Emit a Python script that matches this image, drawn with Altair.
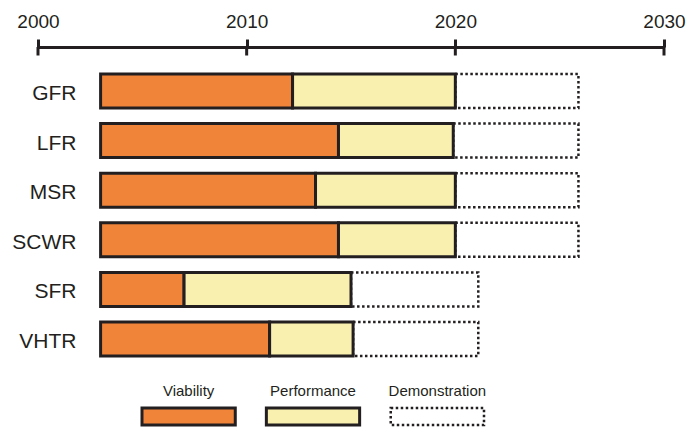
import altair as alt
import pandas as pd

# ---- data ----
systems = ["GFR", "LFR", "MSR", "SCWR", "SFR", "VHTR"]
viability_start = [2003, 2003, 2003, 2003, 2003, 2003]
viability_end = [2012.2, 2014.4, 2013.3, 2014.4, 2007.0, 2011.1]
performance_end = [2020.0, 2019.9, 2020.0, 2020.0, 2015.0, 2015.1]
demonstration_end = [2025.9, 2025.9, 2025.9, 2025.9, 2021.1, 2021.1]
phases = ["Viability", "Performance", "Demonstration"]
phase_colors = ["#F0853A", "#F9F0B0", "#FFFFFF"]
year_ticks = [2000, 2010, 2020, 2030]

DARK = "#231F20"
FONT = "Liberation Sans"

rows = []
for i, s in enumerate(systems):
    rows.append(dict(system=s, phase=phases[0], start=viability_start[i], end=viability_end[i], color=phase_colors[0]))
    rows.append(dict(system=s, phase=phases[1], start=viability_end[i], end=performance_end[i], color=phase_colors[1]))
    rows.append(dict(system=s, phase=phases[2], start=performance_end[i], end=demonstration_end[i], color=phase_colors[2]))
df = pd.DataFrame(rows)
ticks_df = pd.DataFrame({"year": year_ticks})
legend_df = pd.DataFrame({"phase": phases, "color": phase_colors})

# ---- scales / axes ----
x_scale = alt.Scale(domain=[2000, 2030], nice=False, zero=False)
x_axis = alt.Axis(
    orient="top", values=year_ticks, format="d", grid=False, title=None,
    domainWidth=3, domainColor=DARK, tickWidth=3, tickColor=DARK, tickSize=8,
    labelFontSize=19, labelFont=FONT, labelColor=DARK, labelPadding=12,
    labelBaseline="alphabetic", labelFlush=False,
)
y_scale = alt.Scale(domain=systems, range=[27, 309], paddingInner=0.315, paddingOuter=0)
y_axis = alt.Axis(
    orient="left", domain=False, ticks=False, title=None, offset=-41,
    labelPadding=3, labelFontSize=21, labelFont=FONT, labelColor=DARK, labelOffset=3,
)

base = alt.Chart(df).encode(
    x=alt.X("start:Q", scale=x_scale, axis=x_axis),
    x2="end:Q",
    y=alt.Y("system:N", sort=systems, scale=y_scale, axis=y_axis),
)

demo = base.transform_filter(alt.datum.phase == "Demonstration").mark_bar(
    fill="white", stroke=DARK, strokeWidth=2.5, strokeDash=[2.5, 2.5]
)
bars = base.transform_filter(alt.datum.phase != "Demonstration").mark_bar(
    stroke=DARK, strokeWidth=3
).encode(fill=alt.Fill("color:N", scale=None))

tick_down = alt.Chart(ticks_df).mark_rule(color=DARK, strokeWidth=3).encode(
    x=alt.X("year:Q", scale=x_scale, axis=x_axis),
    y=alt.value(0),
    y2=alt.value(8.5),
)

main = alt.layer(demo, bars, tick_down)

# ---- legend ----
lx = alt.X("phase:N", sort=phases,
           scale=alt.Scale(domain=phases, range=[104, 446], paddingInner=0.25, paddingOuter=0),
           axis=None)
lbase = alt.Chart(legend_df).encode(x=lx)
leg_solid = lbase.transform_filter(alt.datum.phase != "Demonstration").mark_rect(
    stroke=DARK, strokeWidth=3
).encode(y=alt.value(361), y2=alt.value(378), fill=alt.Fill("color:N", scale=None))
leg_demo = lbase.transform_filter(alt.datum.phase == "Demonstration").mark_rect(
    fill="white", stroke=DARK, strokeWidth=2.5, strokeDash=[2.5, 2.5]
).encode(y=alt.value(361), y2=alt.value(378))
leg_text = lbase.mark_text(fontSize=15, font=FONT, color=DARK, baseline="alphabetic", align="center").encode(
    y=alt.value(349), text="phase:N"
)
legend = alt.layer(leg_solid, leg_demo, leg_text)

chart = alt.layer(main, legend).resolve_scale(x="independent").properties(
    width=626, height=380,
    autosize=alt.AutoSizeParams(type="none"),
    padding={"left": 30, "top": 39, "right": 24, "bottom": 2},
).configure(font=FONT).configure_view(strokeWidth=0, stroke="transparent")

chart.save("out.html", embed_options={"renderer": "svg", "actions": False})
